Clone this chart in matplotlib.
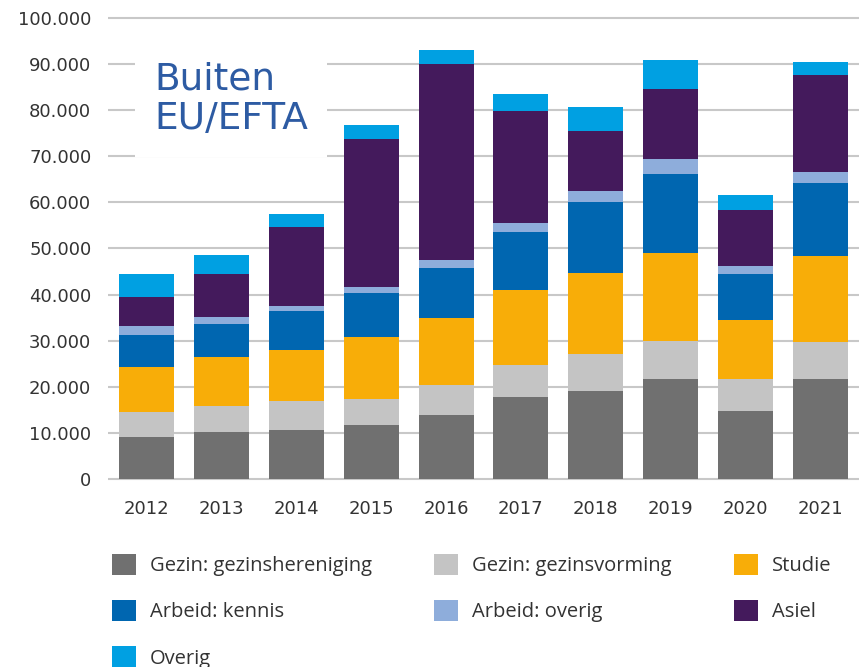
"""Verblijfsvergunningen buiten EU/EFTA per motief, 2012-2021"""

import numpy as np
import matplotlib
matplotlib.use("Agg")
import matplotlib.pyplot as plt
from matplotlib.patches import Patch
from matplotlib.ticker import FuncFormatter

years = ['2012', '2013', '2014', '2015', '2016', '2017', '2018', '2019', '2020', '2021']

# aantallen in duizenden
hereniging = [9.0, 10.1, 10.5, 11.7, 13.8, 17.8, 19.1, 21.6, 14.7, 21.6]
vorming = [5.6, 5.7, 6.5, 5.7, 6.5, 6.9, 8.1, 8.4, 6.9, 8.1]
studie = [9.7, 10.6, 11.0, 13.4, 14.6, 16.3, 17.4, 19.1, 12.9, 18.7]
kennis = [6.9, 7.2, 8.5, 9.5, 10.9, 12.6, 15.4, 17.0, 9.9, 15.8]
arbeid_overig = [2.0, 1.6, 0.9, 1.4, 1.6, 2.0, 2.4, 3.3, 1.8, 2.3]
asiel = [6.2, 9.3, 17.2, 32.1, 42.7, 24.3, 13.1, 15.1, 12.2, 21.2]
overig = [5.1, 4.1, 2.9, 2.9, 2.9, 3.7, 5.2, 6.4, 3.3, 2.8]

labels = ['Gezin: gezinshereniging', 'Gezin: gezinsvorming', 'Studie',
          'Arbeid: kennis', 'Arbeid: overig', 'Asiel', 'Overig']
colors = ['#707070', '#c4c4c4', '#f8ad08', '#0066b0', '#8eaddb', '#441a5c', '#00a0e2']
series = [hereniging, vorming, studie, kennis, arbeid_overig, asiel, overig]

W, H = 859, 667
fig = plt.figure(figsize=(W / 100, H / 100), dpi=100)
ax = fig.add_axes([108 / W, (H - 480.7) / H, 1 - 108 / W, (480.7 - 13.4) / H])

x = np.arange(len(years))
bottom = np.zeros(len(years))
for vals, lab, col in zip(series, labels, colors):
    vals = np.array(vals) * 1000
    ax.bar(x, vals, 0.735, bottom=bottom, color=col, label=lab, zorder=2)
    bottom += vals

ax.set_xlim(-0.52, 9.52)
ax.set_ylim(-400, 101000)
ax.set_yticks(np.arange(0, 100001, 10000))
ax.yaxis.set_major_formatter(FuncFormatter(lambda v, p: f"{int(v):,}".replace(",", ".")))
ax.set_xticks(x)
ax.set_xticklabels(years)
ax.yaxis.grid(True, color='#c8c8c8', lw=1.5)
ax.set_axisbelow(True)
for s in ax.spines.values():
    s.set_visible(False)
ax.tick_params(axis='y', length=0, pad=12, labelsize=13, labelcolor='#333333')
ax.tick_params(axis='x', length=0, pad=14, labelsize=13, labelcolor='#333333')

fig.text(154 / W, (H - 62) / H, 'Buiten\nEU/EFTA', fontsize=27, color='#2d5ba3',
         va='top', ha='left', linespacing=1.12,
         bbox=dict(facecolor='white', edgecolor='none', pad=14))

# legenda rij-gewijs: kolommen vullen in volgorde
handles = [Patch(facecolor=c) for c in colors]
order = [0, 3, 6, 1, 4, 2, 5]
fig.legend([handles[i] for i in order], [labels[i] for i in order],
           loc='upper left', bbox_to_anchor=(112 / W, (H - 554) / H), ncol=3,
           frameon=False, borderpad=0, borderaxespad=0,
           prop={'family': 'Open Sans', 'size': 14.5}, labelcolor='#333333',
           handlelength=1.19, handleheight=1.19, handletextpad=0.69,
           columnspacing=3.1, labelspacing=1.2)

fig.savefig('out.png', dpi=100)
